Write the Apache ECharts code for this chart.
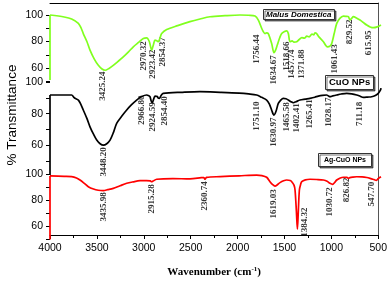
<!DOCTYPE html>
<html><head><meta charset="utf-8">
<script src="https://cdn.jsdelivr.net/npm/echarts@6/dist/echarts.min.js"></script>
<style>html,body{margin:0;padding:0;background:#fff}#c{width:390px;height:283px}</style>
</head><body><div id="c"></div>
<script>
// ---- data ----
const xTicks = [4000, 3500, 3000, 2500, 2000, 1500, 1000, 500];
const yTickLabels = [60, 80, 100];

const malusSpectrum = [[4000,50.9],[4000,100],[3850,98.5],[3771,97],[3700,93.7],[3670,90],[3648,86],[3610,80],[3577,73.5],[3530,66.5],[3489,62],[3450,59.2],[3418,58.3],[3380,59.5],[3331,62],[3280,65],[3225,68.4],[3170,72.2],[3119,76],[3060,79.5],[3013,82.3],[2978,82.8],[2950,80],[2925,73.5],[2905,78],[2890,81],[2870,80.5],[2855,79.8],[2835,83],[2819,86],[2766,89],[2650,92],[2520,95],[2414,97],[2308,98.7],[2150,99.5],[1991,100],[1900,99.8],[1832,99.2],[1797,96.2],[1762,90],[1745,87.5],[1727,86],[1710,86.5],[1692,86],[1656,78.5],[1632,71.5],[1615,73.5],[1597,77.3],[1570,83],[1550,86],[1520,87.5],[1497,88],[1480,86],[1462,79.8],[1440,80.5],[1420,79.5],[1391,79.8],[1365,81.5],[1338,83],[1310,82.5],[1285,84],[1260,83.5],[1230,85.5],[1210,85],[1198,86.6],[1180,86],[1162,84],[1130,81.5],[1109,79.8],[1067,76],[1040,76.5],[1021,78.5],[995,86],[968,93.7],[935,97.5],[898,99.2],[870,99],[845,98.7],[828,96.2],[810,97.5],[792,98.7],[760,97.8],[722,96.2],[690,94.5],[651,92.4],[615,91],[580,90.4],[540,91],[500,92.4]];

const cuoSpectrum = [[4000,41.3],[4000,91.8],[3771,91.8],[3750,90.5],[3736,89.7],[3700,88.6],[3675,86],[3648,82.3],[3610,77],[3577,71.7],[3540,67],[3506,63.3],[3470,61],[3436,60.1],[3400,61],[3365,63.3],[3330,68],[3295,73.9],[3240,78.5],[3189,82.3],[3140,85.5],[3084,88.6],[3030,90.8],[2978,91.8],[2955,91.3],[2943,90.7],[2930,88],[2919,86.9],[2905,89],[2890,91.1],[2865,90.8],[2855,89.8],[2844,89.7],[2825,91.5],[2802,92.8],[2600,93.5],[2414,93.9],[2200,93.5],[2000,93],[1900,92.5],[1815,91.8],[1762,90.3],[1709,88.6],[1680,86],[1655,82],[1632,79.1],[1610,81.5],[1586,86.5],[1560,88.6],[1533,89.7],[1505,89.4],[1480,88.6],[1455,87.6],[1427,86.9],[1400,87.5],[1357,88.6],[1300,89.2],[1251,89.7],[1200,90.4],[1163,91.1],[1120,91.6],[1075,91.8],[1055,91.2],[1040,90.7],[1010,91.2],[968,91.8],[920,92.4],[863,92.8],[810,92.5],[757,91.8],[720,91],[687,90.3],[640,90.5],[599,90.7],[560,91.5],[529,92.8],[505,95],[500,96.2]];

const agcuoSpectrum = [[4000,50],[4000,98.5],[3850,98.2],[3771,98],[3720,97],[3683,95.4],[3640,93],[3595,90.3],[3540,88.5],[3490,87.6],[3436,87.3],[3390,88],[3331,89],[3260,91],[3189,92.9],[3120,94],[3048,94.9],[2980,95],[2940,94.8],[2925,94.1],[2910,94.6],[2872,96],[2700,96.5],[2520,96.2],[2400,97.2],[2375,97.3],[2360,96],[2345,97.4],[2200,98],[2000,98.6],[1815,99.2],[1760,98.8],[1709,97.5],[1674,94.1],[1645,91.8],[1621,90.8],[1595,91.8],[1568,93.4],[1530,94.8],[1497,95.4],[1460,95],[1444,94.1],[1420,91.5],[1409,87.8],[1395,72],[1384,57.8],[1374,72],[1363,87.8],[1350,92],[1338,94.1],[1300,95.5],[1251,96],[1180,95.8],[1109,95.4],[1070,94.5],[1040,92.9],[1011,92.1],[990,93.5],[968,95.4],[930,97],[898,97.5],[860,97.4],[845,96.7],[830,97.2],[800,97.6],[757,97.9],[700,97.8],[650,97.3],[616,96.7],[585,96],[564,95.4],[547,95.2],[530,96.5],[500,97.9]];

// peak annotations: text, anchor wavenumber, anchor transmittance
const malusPeaks = ['3425.24','2970.32','2923.42','2854.37','1756.44','1634.67','1518.66','1457.74','1371.88','1061.43','829.52','615.95'];
const malusPeakX = [3440,3006,2911,2805,1814,1639,1497,1444,1339,986,828,634];
const malusPeakY = [46.4,69.1,63.0,72.1,74.3,58.5,69,63,63,66.8,87.2,78.9];

const cuoPeaks = ['3448.20','2966.80','2924.59','2854.40','1751.10','1630.97','1465.58','1402.41','1265.41','1028.17','711.18'];
const cuoPeakX = [3436,3030,2914,2791,1814,1639,1497,1391,1251,1057,722];
const cuoPeakY = [49.5,82.3,77.9,81.7,78.5,68.4,77.9,77.3,79.8,81.0,79.8];

const agPeaks = ['3435.98','2915.28','2360.74','1619.03','1384.32','1030.72','826.82','547.70'];
const agPeakX = [3436,2925,2361,1639,1304,1039,863,598];
const agPeakY = [74.8,80.9,83.2,77.1,63.3,78.6,87.8,84.7];

const sampleNames = ['Malus Domestica','CuO NPs','Ag-CuO NPs'];

// ---- chart ----
const chart = echarts.init(document.getElementById('c'), null, {renderer:'canvas'});
const SANS = 'Liberation Sans, Arial, sans-serif';
const SERIF = 'Liberation Serif, Times New Roman, serif';
const xBase = {type:'value', min:500, max:4000, inverse:true, interval:500, splitLine:{show:false}};
function hiddenX(g){ return Object.assign({}, xBase, {gridIndex:g, show:false}); }
function panelY(g){
  return {type:'value', gridIndex:g, min:50, max:100, interval:10,
    axisLine:{show:false}, splitLine:{show:false},
    axisTick:{show:true, length:4, lineStyle:{color:'#000', width:1}},
    axisLabel:{fontFamily:SANS, fontSize:10.5, color:'#000', margin:7,
      formatter:v => yTickLabels.indexOf(v) >= 0 ? String(v) : ''}};
}
function lineSeries(data, xi, yi, color){
  return [
    {type:'line', xAxisIndex:xi, yAxisIndex:yi, data:data.slice(0,2), showSymbol:false, clip:false,
     lineStyle:{color, width:1.7}, silent:true},
    {type:'line', xAxisIndex:xi, yAxisIndex:yi, data:data.slice(1), showSymbol:false, clip:false,
     smooth:0.3, lineStyle:{color, width:1.7}, silent:true}
  ];
}
function peakSeries(names, xs, ys, xi, yi){
  return {type:'scatter', xAxisIndex:xi, yAxisIndex:yi, clip:false, silent:true, symbolSize:1,
    itemStyle:{color:'rgba(0,0,0,0)'},
    data:names.map((n,i)=>({name:n, value:[xs[i], ys[i]]})),
    label:{show:true, position:'inside', rotate:90, formatter:'{b}', align:'center', verticalAlign:'middle',
      fontFamily:SERIF, fontWeight:'bold', fontSize:9, color:'#000'}};
}
function box(text, left, top, fs, pad, italic){
  return {text, left, top, padding:pad, borderColor:'#333', borderWidth:1, backgroundColor:'#fff',
    shadowColor:'rgba(0,0,0,0.55)', shadowOffsetX:1.5, shadowOffsetY:1.5, shadowBlur:0,
    textStyle:{fontFamily:SANS, fontSize:fs, fontWeight:'bold', fontStyle: italic ? 'italic':'normal', color:'#000', lineHeight:fs+1}};
}

chart.setOption({
  animation:false,
  backgroundColor:'#fff',
  title:[
    box(sampleNames[0], 263, 9, 8, [1,3,1,3], true),
    box(sampleNames[1], 325, 75, 9.5, [2,4,2,4], false),
    box(sampleNames[2], 318, 153, 7, [3,6,3,6], false)
  ],
  grid:[
    {left:50, right:9, top:3, bottom:44},
    {left:50, right:9, top:15, height:66.25},
    {left:50, right:9, top:82, height:79.15},
    {left:50, right:9, top:174, height:65.4}
  ],
  xAxis:[
    Object.assign({}, xBase, {gridIndex:0, position:'bottom',
      axisLine:{show:true, lineStyle:{color:'#000', width:1}},
      axisTick:{show:true, length:4, lineStyle:{color:'#000'}},
      minorTick:{show:true, splitNumber:2, length:3, lineStyle:{color:'#000'}},
      axisLabel:{fontFamily:SANS, fontSize:10.5, color:'#000', margin:8,
        formatter:v => xTicks.indexOf(v) >= 0 ? String(v) : ''},
      name:'Wavenumber (cm{sup|-1})', nameLocation:'middle', nameGap:31,
      nameTextStyle:{fontFamily:SERIF, fontWeight:'bold', fontSize:11, color:'#000',
        rich:{sup:{fontFamily:SERIF, fontWeight:'bold', fontSize:7, color:'#000', padding:[0,0,6,0]}}}}),
    Object.assign({}, xBase, {gridIndex:0, position:'top', axisLine:{show:true, lineStyle:{color:'#000'}},
      axisTick:{show:false}, axisLabel:{show:false}}),
    hiddenX(1), hiddenX(2), hiddenX(3)
  ],
  yAxis:[
    {type:'value', gridIndex:0, position:'right', min:0, max:1, axisLine:{show:true, lineStyle:{color:'#555'}},
     axisTick:{show:false}, axisLabel:{show:false}, splitLine:{show:false}},
    panelY(1), panelY(2), panelY(3)
  ],
  graphic:[{type:'text', x:12, y:115, rotation:Math.PI/2,
    style:{text:'% Transmittance', fontFamily:SANS, fontSize:13.5, fill:'#000', align:'center', verticalAlign:'middle'}}],
  series:[
    ...lineSeries(malusSpectrum, 2, 1, '#80ff1e'),
    ...lineSeries(cuoSpectrum, 3, 2, '#000000'),
    ...lineSeries(agcuoSpectrum, 4, 3, '#ff0000'),
    peakSeries(malusPeaks, malusPeakX, malusPeakY, 2, 1),
    peakSeries(cuoPeaks, cuoPeakX, cuoPeakY, 3, 2),
    peakSeries(agPeaks, agPeakX, agPeakY, 4, 3)
  ]
});
</script></body></html>
